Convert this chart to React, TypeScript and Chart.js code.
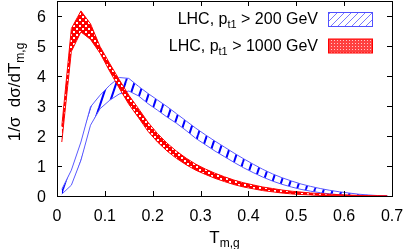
import React, { useEffect, useRef } from "react";
import { Chart, registerables } from "chart.js";

Chart.register(...registerables);

// ---- data ----
const xs = [0.01, 0.03, 0.05, 0.07, 0.09, 0.11, 0.13, 0.15, 0.17, 0.19, 0.21, 0.23, 0.25, 0.27, 0.29, 0.31, 0.33, 0.35, 0.37, 0.39, 0.41, 0.43, 0.45, 0.47, 0.49, 0.51, 0.53, 0.55, 0.57, 0.59, 0.61, 0.63, 0.65, 0.67, 0.69];

const redUpper = [2.32, 5.58, 6.17, 5.74, 4.98, 4.42, 3.88, 3.36, 2.92, 2.46, 2.08, 1.76, 1.49, 1.26, 1.06, 0.9, 0.76, 0.64, 0.53, 0.44, 0.37, 0.3, 0.25, 0.2, 0.16, 0.13, 0.1, 0.08, 0.06, 0.045, 0.03, 0.02, 0.01, 0.005, 0];
const redLower = [1.8, 4.82, 5.47, 5.22, 4.76, 4.16, 3.6, 3.06, 2.62, 2.16, 1.8, 1.5, 1.25, 1.04, 0.86, 0.72, 0.59, 0.48, 0.38, 0.3, 0.24, 0.18, 0.14, 0.1, 0.07, 0.05, 0.035, 0.02, 0.01, 0.005, 0, 0, 0, 0, 0];

const blueUpper = [0.22, 0.86, 1.8, 2.97, 3.36, 3.69, 3.95, 3.92, 3.66, 3.42, 3.2, 2.98, 2.74, 2.5, 2.26, 2.04, 1.83, 1.63, 1.43, 1.24, 1.06, 0.89, 0.74, 0.61, 0.5, 0.4, 0.32, 0.25, 0.19, 0.14, 0.1, 0.06, 0.035, 0.015, 0.005];
const blueLower = [0.06, 0.36, 1.19, 2.36, 2.91, 3.19, 3.4, 3.5, 3.34, 3.08, 2.86, 2.63, 2.42, 2.18, 1.92, 1.71, 1.5, 1.31, 1.12, 0.94, 0.78, 0.63, 0.5, 0.39, 0.3, 0.22, 0.16, 0.11, 0.07, 0.04, 0.02, 0.01, 0, 0, 0];

const xTicks = [0, 0.1, 0.2, 0.3, 0.4, 0.5, 0.6, 0.7];
const xTickLabels = ["0", "0.1", "0.2", "0.3", "0.4", "0.5", "0.6", "0.7"];
const yTicks = [0, 1, 2, 3, 4, 5, 6];
const yTickLabels = ["0", "1", "2", "3", "4", "5", "6"];

type Part = { t: string; sub?: boolean };
const legendBlue: Part[] = [{ t: "LHC, p" }, { t: "t1", sub: true }, { t: " > 200 GeV" }];
const legendRed: Part[] = [{ t: "LHC, p" }, { t: "t1", sub: true }, { t: " > 1000 GeV" }];
const xTitle: Part[] = [{ t: "T" }, { t: "m,g", sub: true }];
const yTitle: Part[] = [{ t: "1/σ  dσ/dT" }, { t: "m,g", sub: true }];

const FONT = "'Liberation Sans', Arial, sans-serif";
const MAIN = `16px ${FONT}`;
const SUB = `11px ${FONT}`;
const TITLE = `17px ${FONT}`;
const TSUB = `12px ${FONT}`;

function richWidth(ctx: CanvasRenderingContext2D, parts: Part[], main: string, sub: string) {
  let w = 0;
  for (const p of parts) {
    ctx.font = p.sub ? sub : main;
    w += ctx.measureText(p.t).width;
  }
  return w;
}

function drawRich(ctx: CanvasRenderingContext2D, parts: Part[], x: number, y: number, main: string, sub: string, dy: number) {
  let cx = x;
  for (const p of parts) {
    ctx.font = p.sub ? sub : main;
    ctx.fillText(p.t, cx, p.sub ? y + dy : y);
    cx += ctx.measureText(p.t).width;
  }
}

function bluePattern(ctx: CanvasRenderingContext2D) {
  const c = document.createElement("canvas");
  c.width = 9;
  c.height = 27;
  const g = c.getContext("2d")!;
  g.strokeStyle = "#0000ff";
  g.lineWidth = 2;
  for (let k = -1; k <= 1; k++) {
    g.beginPath();
    g.moveTo(k * 9, 27);
    g.lineTo(k * 9 + 9, 0);
    g.stroke();
  }
  return ctx.createPattern(c, "repeat")!;
}

function redPattern(ctx: CanvasRenderingContext2D) {
  const c = document.createElement("canvas");
  c.width = 6;
  c.height = 6;
  const g = c.getContext("2d")!;
  g.fillStyle = "#ff0000";
  g.fillRect(0, 0, 6, 6);
  g.fillStyle = "#ffffff";
  g.fillRect(1, 1, 2, 2);
  g.fillRect(4, 4, 2, 2);
  return ctx.createPattern(c, "repeat")!;
}

function legendBluePattern(ctx: CanvasRenderingContext2D) {
  const c = document.createElement("canvas");
  c.width = 7;
  c.height = 7;
  const g = c.getContext("2d")!;
  g.strokeStyle = "#7878ff";
  g.lineWidth = 1;
  for (let k = -1; k <= 1; k++) {
    g.beginPath();
    g.moveTo(k * 7, 7);
    g.lineTo(k * 7 + 7, 0);
    g.stroke();
  }
  return ctx.createPattern(c, "repeat")!;
}

function legendRedPattern(ctx: CanvasRenderingContext2D) {
  const c = document.createElement("canvas");
  c.width = 3;
  c.height = 3;
  const g = c.getContext("2d")!;
  g.fillStyle = "#ff4040";
  g.fillRect(0, 0, 3, 3);
  g.fillStyle = "#ffc8c8";
  g.fillRect(1, 1, 1, 1);
  return ctx.createPattern(c, "repeat")!;
}

const decorations = {
  id: "gnuplotDecor",
  afterDraw(chart: any) {
    const ctx: CanvasRenderingContext2D = chart.ctx;
    const { left, right, top, bottom } = chart.chartArea;
    const xs_ = chart.scales.x;
    const ys_ = chart.scales.y;
    ctx.save();
    ctx.strokeStyle = "#000";
    ctx.lineWidth = 1;
    // frame
    ctx.strokeRect(Math.round(left) + 0.5, Math.round(top) + 0.5, Math.round(right - left), Math.round(bottom - top));
    // ticks
    const tl = 5;
    ctx.beginPath();
    xTicks.forEach((v) => {
      const px = Math.round(xs_.getPixelForValue(v)) + 0.5;
      ctx.moveTo(px, bottom);
      ctx.lineTo(px, bottom - tl);
      ctx.moveTo(px, top);
      ctx.lineTo(px, top + tl);
    });
    yTicks.forEach((v) => {
      const py = Math.round(ys_.getPixelForValue(v)) + 0.5;
      ctx.moveTo(left, py);
      ctx.lineTo(left + tl, py);
      ctx.moveTo(right, py);
      ctx.lineTo(right - tl, py);
    });
    ctx.stroke();

    ctx.fillStyle = "#000";
    ctx.textBaseline = "alphabetic";
    // x tick labels
    ctx.font = MAIN;
    ctx.textAlign = "center";
    xTicks.forEach((v, i) => {
      ctx.fillText(xTickLabels[i], xs_.getPixelForValue(v), bottom + 24.5);
    });
    // y tick labels
    ctx.textAlign = "right";
    yTicks.forEach((v, i) => {
      ctx.fillText(yTickLabels[i], left - 11, ys_.getPixelForValue(v) + 6);
    });

    ctx.textAlign = "left";
    // x title
    const xw = richWidth(ctx, xTitle, TITLE, TSUB);
    drawRich(ctx, xTitle, (left + right) / 2 - xw / 2, 243, TITLE, TSUB, 4);
    // y title (rotated)
    ctx.save();
    ctx.translate(19.5, 0);
    ctx.rotate(-Math.PI / 2);
    const yw = richWidth(ctx, yTitle, TITLE, TSUB);
    drawRich(ctx, yTitle, -(92 + yw / 2), 0, TITLE, TSUB, 4);
    ctx.restore();

    // legend
    const textRight = 318;
    const rows: [Part[], number, CanvasPattern, string][] = [
      [legendBlue, 24, legendBluePattern(ctx), "#5050ff"],
      [legendRed, 50.5, legendRedPattern(ctx), "#ff0000"],
    ];
    rows.forEach(([parts, base, pat, col]) => {
      const w = richWidth(ctx, parts, MAIN, SUB);
      drawRich(ctx, parts, textRight - w, base, MAIN, SUB, 4);
      const bx = 328.5;
      const by = base - 11.5;
      const bw = 44;
      const bh = 14;
      ctx.fillStyle = "#fff";
      ctx.fillRect(bx, by, bw, bh);
      ctx.fillStyle = pat;
      ctx.fillRect(bx, by, bw, bh);
      ctx.strokeStyle = col;
      ctx.strokeRect(bx, by, bw, bh);
      ctx.fillStyle = "#000";
    });
    ctx.restore();
  },
};

export default function App() {
  const ref = useRef<HTMLCanvasElement>(null);
  useEffect(() => {
    const canvas = ref.current!;
    const ctx = canvas.getContext("2d")!;
    const pts = (ys: number[]) => xs.map((x, i) => ({ x, y: ys[i] }));
    const chart = new Chart(ctx, {
      type: "line",
      data: {
        datasets: [
          { data: pts(redLower), borderColor: "#ff0000", borderWidth: 1, pointRadius: 0, fill: false },
          { data: pts(redUpper), borderColor: "#ff0000", borderWidth: 1, pointRadius: 0, fill: "-1", backgroundColor: redPattern(ctx) },
          { data: pts(blueLower), borderColor: "#5a5aff", borderWidth: 1, pointRadius: 0, fill: false },
          { data: pts(blueUpper), borderColor: "#5a5aff", borderWidth: 1, pointRadius: 0, fill: "-1", backgroundColor: bluePattern(ctx) },
        ] as any,
      },
      options: {
        animation: false,
        responsive: false,
        devicePixelRatio: 1,
        layout: { padding: { left: 57, right: 15, top: 1, bottom: 53 } },
        plugins: { legend: { display: false }, tooltip: { enabled: false } },
        elements: { line: { tension: 0 }, point: { radius: 0 } },
        scales: {
          x: { type: "linear", min: 0, max: 0.7, display: false },
          y: { type: "linear", min: 0, max: 6.5, display: false },
        },
      } as any,
      plugins: [decorations],
    });
    return () => chart.destroy();
  }, []);
  return (
    <div style={{ position: "absolute", left: 0, top: 0, width: 407, height: 249, background: "#fff" }}>
      <canvas ref={ref} width={407} height={249} style={{ display: "block", width: 407, height: 249 }} />
    </div>
  );
}
